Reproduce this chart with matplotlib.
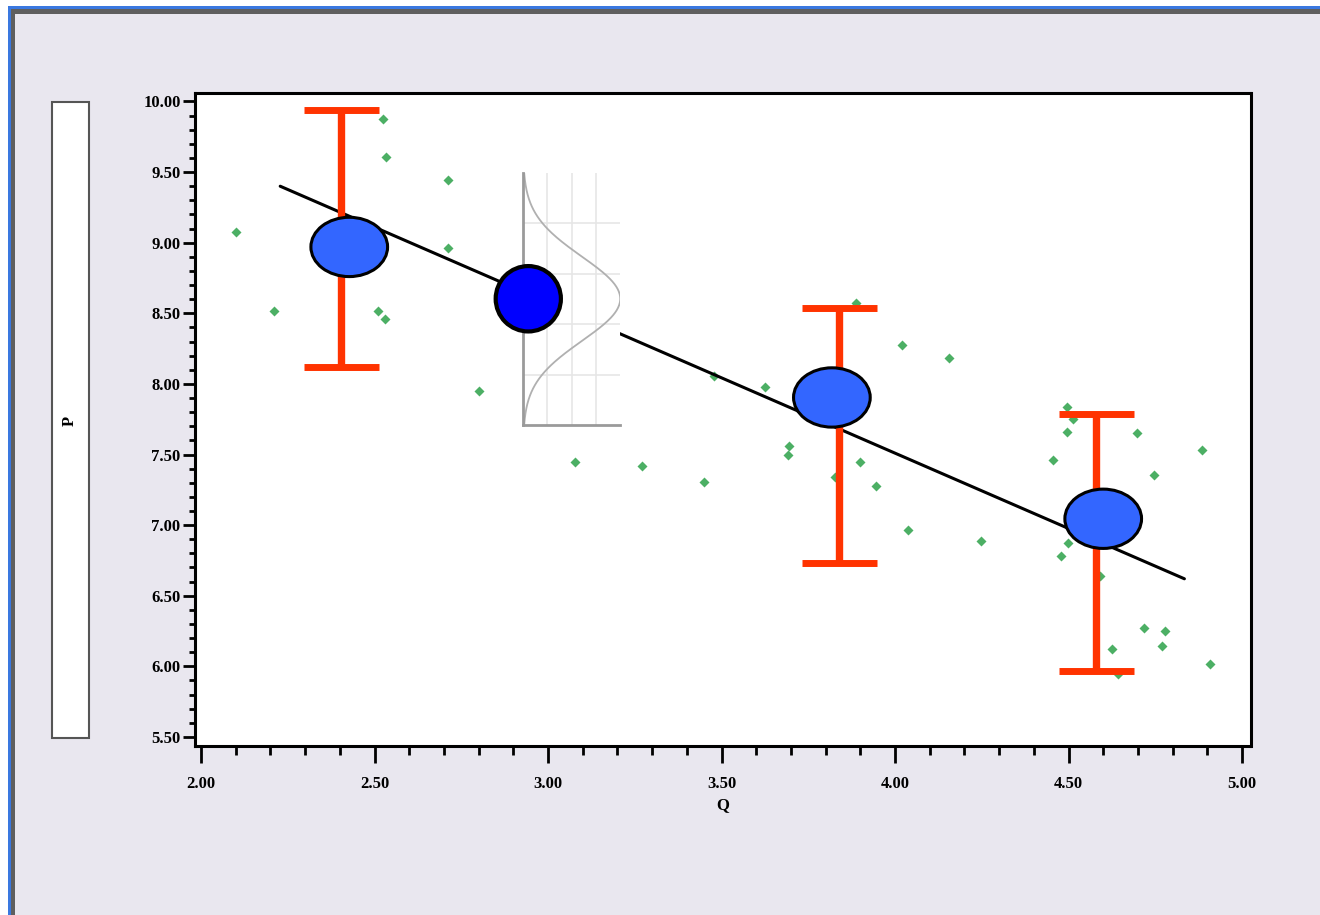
import numpy as np
import matplotlib
matplotlib.use('Agg')
import matplotlib.pyplot as plt
from matplotlib.patches import Ellipse, Rectangle
from matplotlib.ticker import MultipleLocator, FormatStrFormatter

obs_q = [2.100, 2.210, 2.525, 2.534, 2.713, 2.713, 2.510, 2.531, 2.802, 3.887,
         4.020, 4.155, 3.478, 3.626, 3.695, 3.691, 3.898, 3.826, 3.944, 3.079,
         3.270, 3.448, 4.037, 4.248, 4.495, 4.512, 4.497, 4.698, 4.886, 4.454,
         4.747, 4.499, 4.479, 4.591, 4.718, 4.779, 4.770, 4.626, 4.909, 4.644]
obs_p = [9.074, 8.516, 9.876, 9.609, 9.444, 8.962, 8.516, 8.462, 7.952, 8.575,
         8.273, 8.183, 8.056, 7.980, 7.562, 7.499, 7.445, 7.343, 7.279, 7.445,
         7.421, 7.307, 6.963, 6.885, 7.834, 7.751, 7.659, 7.650, 7.532, 7.459,
         7.357, 6.871, 6.783, 6.642, 6.273, 6.252, 6.144, 6.122, 6.016, 5.946]

# fitted line end points
fit_q = [2.228, 4.834]
fit_p = [9.40, 6.62]

# red intervals
bar_q = [2.404, 3.838, 4.578]
bar_low = [8.12, 6.73, 5.97]
bar_high = [9.94, 8.54, 7.79]

# group means (light blue ellipses)
mean_q = [2.427, 3.818, 4.600]
mean_p = [8.970, 7.904, 7.045]

# predicted point and the spread drawn as a normal curve
pred_q = 2.943
pred_p = 8.603
pred_sd = 0.298

W, H = 1320, 915
fig = plt.figure(figsize=(W / 100, H / 100), dpi=100)
fig.patch.set_facecolor('white')

# window frame: blue line, grey band, lavender inside
fig.add_artist(Rectangle((8 / W, -0.1), 1.2, 1.1 - 6 / H, transform=fig.transFigure,
                         fc='#3a78e0', ec='none', zorder=-10))
fig.add_artist(Rectangle((11 / W, -0.1), 1.2, 1.1 - 8.5 / H, transform=fig.transFigure,
                         fc='#5f5f5f', ec='none', zorder=-9))
fig.add_artist(Rectangle((15 / W, -0.1), 1.2, 1.1 - 13.5 / H, transform=fig.transFigure,
                         fc='#e9e7ef', ec='none', zorder=-8))

# white box holding the y label
fig.add_artist(Rectangle((52 / W, 1 - 738 / H), 37 / W, (738 - 102) / H,
                         transform=fig.transFigure, fc='white', ec='#555555', lw=1.5))
fig.text(70 / W, 1 - 421 / H, 'P', rotation=90, ha='center', va='center',
         family='Liberation Serif', weight='bold', fontsize=12)

ax = fig.add_axes([194.5 / W, 1 - 745.7 / H, 1056 / W, 652.4 / H])
ax.set_facecolor('white')
ax.set_xlim(1.981, 5.0245)
ax.set_ylim(5.438, 10.058)

for s in ax.spines.values():
    s.set_linewidth(2.2)
    s.set_color('black')

ax.xaxis.set_major_locator(MultipleLocator(0.5))
ax.xaxis.set_minor_locator(MultipleLocator(0.1))
ax.yaxis.set_major_locator(MultipleLocator(0.5))
ax.yaxis.set_minor_locator(MultipleLocator(0.1))
ax.xaxis.set_major_formatter(FormatStrFormatter('%.2f'))
ax.yaxis.set_major_formatter(FormatStrFormatter('%.2f'))
ax.tick_params(axis='x', which='major', length=12.5, width=2, pad=9)
ax.tick_params(axis='x', which='minor', length=6.5, width=2)
ax.tick_params(axis='y', which='major', length=9, width=2, pad=1)
ax.tick_params(axis='y', which='minor', length=4.5, width=2)
for lab in ax.get_xticklabels() + ax.get_yticklabels():
    lab.set_family('Liberation Serif')
    lab.set_weight('bold')
    lab.set_fontsize(12)
ax.set_xlabel('Q', family='Liberation Serif', weight='bold', fontsize=12, labelpad=4)

# observations
ax.plot(obs_q, obs_p, 'D', color='#4caf64', markersize=5.5, mec='none', zorder=2)

# fitted line
ax.plot(fit_q, fit_p, color='black', lw=2.2, solid_capstyle='round', zorder=3)

# intervals
bar_mid = [(lo + hi) / 2 for lo, hi in zip(bar_low, bar_high)]
yerr = [[m - lo for m, lo in zip(bar_mid, bar_low)],
        [hi - m for m, hi in zip(bar_mid, bar_high)]]
ax.errorbar(bar_q, bar_mid, yerr=yerr, fmt='none', ecolor='#ff3300',
            elinewidth=5.3, capsize=27, capthick=5, zorder=4)

# group means
for q, p in zip(mean_q, mean_p):
    ax.add_patch(Ellipse((q, p), 0.221, 0.42, fc='#3366ff', ec='black', lw=2.2, zorder=5))

# normal curve panel around the predicted point
ins = ax.inset_axes([2.928, pred_p - 3 * pred_sd, 0.28, 6 * pred_sd],
                    transform=ax.transData, zorder=6)
z = np.linspace(-3, 3, 300)
ins.plot(np.exp(-z ** 2 / 2), z, color='#b0b0b0', lw=1.3)
ins.set_xlim(0, 1.0)
ins.set_ylim(-3, 3)
ins.set_xticks([0.25, 0.5, 0.75])
ins.set_yticks([-1.8, -0.6, 0.6, 1.8])
ins.grid(color='#e6e6e6', lw=1.2)
ins.tick_params(length=0, labelleft=False, labelbottom=False)
ins.spines['top'].set_visible(False)
ins.spines['right'].set_visible(False)
ins.spines['left'].set_color('#9a9a9a')
ins.spines['bottom'].set_color('#9a9a9a')
ins.spines['left'].set_linewidth(2)
ins.spines['bottom'].set_linewidth(2)

# predicted point
ax.add_patch(Ellipse((pred_q, pred_p), 0.188, 0.463, fc='#0000ff', ec='black', lw=3, zorder=8))

fig.savefig('out.png', dpi=100)
